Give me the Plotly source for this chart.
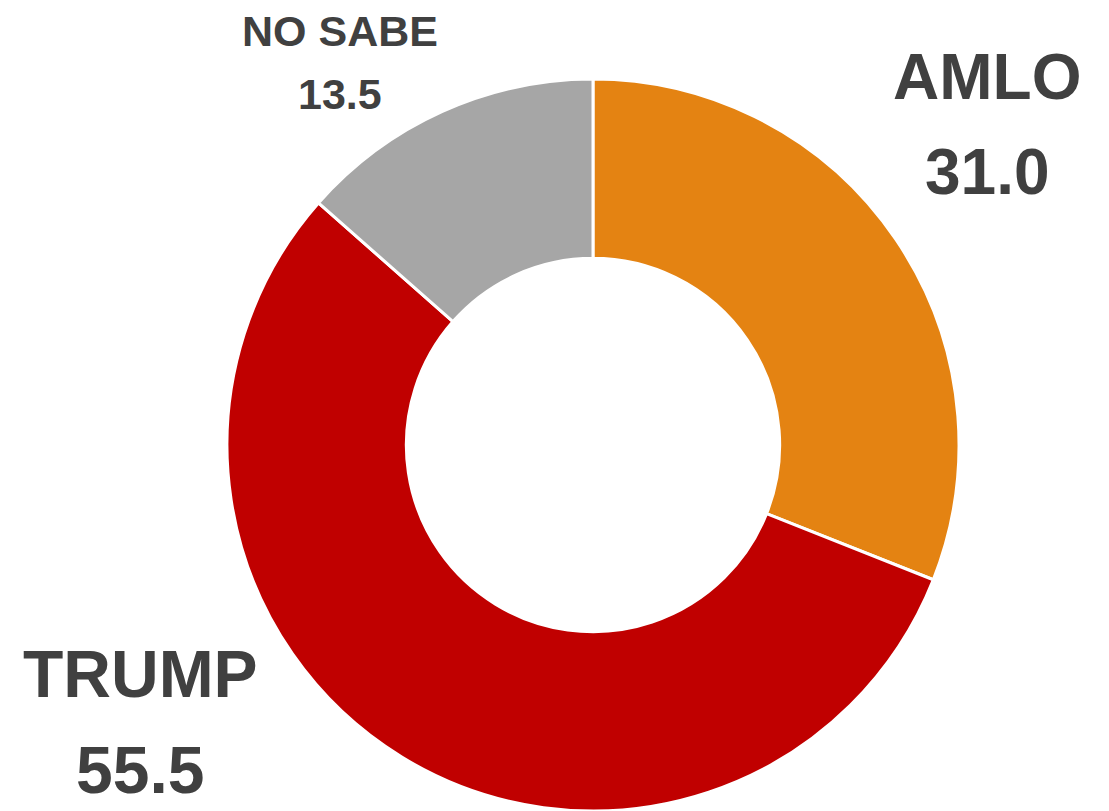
import plotly.graph_objects as go

labels = ["AMLO", "TRUMP", "NO SABE"]
values = [31.0, 55.5, 13.5]
colors = ["#E48312", "#C00000", "#A6A6A6"]

# The page body has an 8px default margin, so the figure is drawn 8px in from the window edge.
OFF = 8
W, H = 1109 - OFF, 811 - OFF
# label positions in window pixels (center x, center y for name line, value line) and font sizes
label_pos = {
    "AMLO": (987, 77, 172, 64),
    "TRUMP": (140, 674, 770, 66),
    "NO SABE": (340, 31, 94, 43),
}

cx0, cy0, R = 593 - OFF, 447 - OFF, 366
fig = go.Figure(go.Pie(
    labels=labels,
    values=values,
    sort=False,
    direction="clockwise",
    rotation=0,
    hole=0.51,
    marker=dict(colors=colors, line=dict(color="white", width=3)),
    textinfo="none",
    hoverinfo="label+value",
    domain=dict(x=[(cx0 - R) / W, (cx0 + R) / W], y=[0, 2 * R / H]),
    showlegend=False,
))

font_family = "Liberation Sans Narrow, Arial Narrow, Liberation Sans, Arial, sans-serif"
for lab, val in zip(labels, values):
    cx, y1, y2, fs = label_pos[lab]
    for txt, py in ((lab, y1), (f"{val:.1f}", y2)):
        fig.add_annotation(
            x=(cx - OFF) / W, y=1 - (py - OFF) / H, xref="paper", yref="paper",
            text=f"<b>{txt}</b>", showarrow=False,
            xanchor="center", yanchor="middle",
            font=dict(family=font_family, size=fs, color="#404040"),
        )

fig.update_layout(
    width=W, height=H,
    margin=dict(l=0, r=0, t=0, b=0),
    paper_bgcolor="white",
    plot_bgcolor="white",
)

fig.write_html("out.html")
